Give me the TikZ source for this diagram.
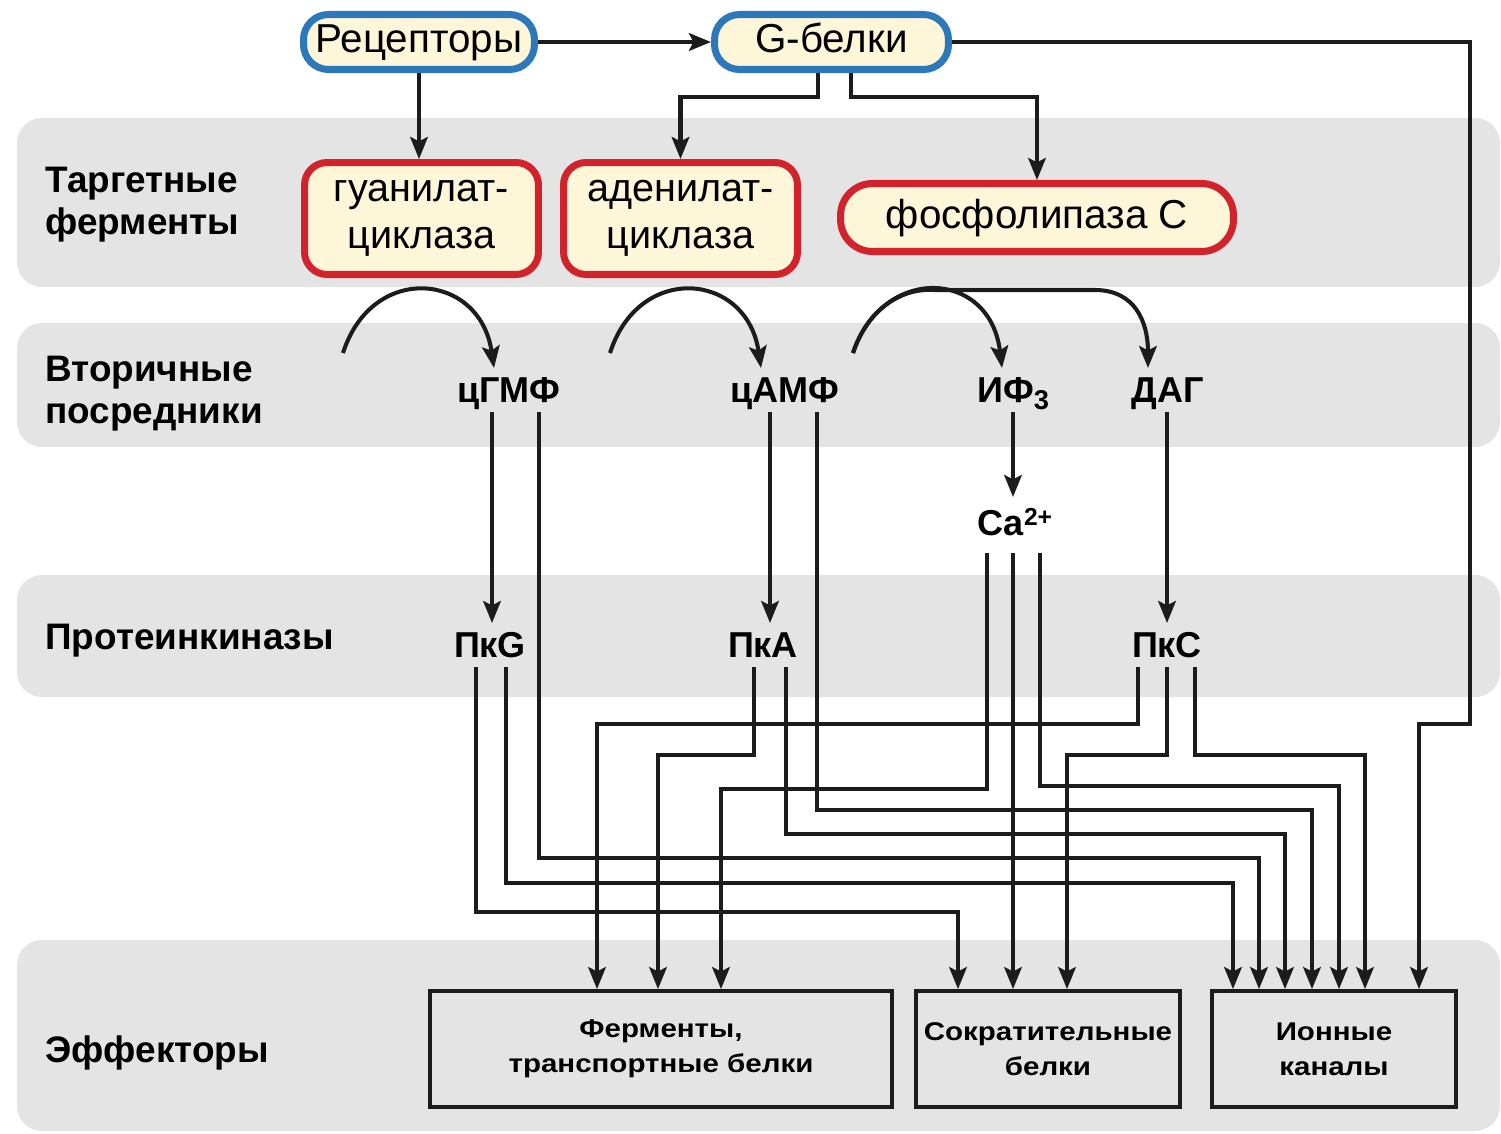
\documentclass[tikz,border=0pt]{standalone}
\usepackage{fontspec}
\setmainfont{Liberation Sans}
\usetikzlibrary{arrows.meta,calc}
\definecolor{cream}{HTML}{FDF6D9}
\definecolor{bblue}{HTML}{2C78BA}
\definecolor{rred}{HTML}{D2232D}
\definecolor{bandgray}{HTML}{E4E4E4}
\definecolor{ink}{HTML}{1C1C1C}
\newcommand{\sx}[1]{\scalebox{1.15}[1]{#1}}
\begin{document}
\begin{tikzpicture}[x=0.02cm,y=-0.02cm,
 band/.style={fill=bandgray,rounded corners=0.5cm},
 topbox/.style={draw=bblue,fill=cream,line width=4pt,rounded corners=0.5cm,minimum height=1.10cm,inner sep=0pt,font=\fontsize{23}{27}\selectfont,text height=16.5pt,text depth=4.5pt},
 enz/.style={draw=rred,fill=cream,line width=4pt,rounded corners=0.45cm,inner sep=0pt,align=center,font=\fontsize{22.5}{26.6}\selectfont},
 eff/.style={draw=ink,fill=bandgray,line width=2.2pt,minimum height=2.32cm,inner sep=0pt,align=center,font=\bfseries\fontsize{14.6}{19.8}\selectfont},
 lab/.style={anchor=base west,inner sep=0pt,font=\bfseries\fontsize{21}{25}\selectfont},
 msg/.style={anchor=base,inner sep=0pt,font=\bfseries\fontsize{20.5}{24}\selectfont},
 con/.style={draw=ink,line width=2.3pt},
 arr/.style={con,-{Stealth[length=12.5pt,width=10pt,inset=2.5pt]}},
]
\useasboundingbox (0,0) rectangle (1501,1133);
% bands
\fill[band] (17,118) rectangle (1500,287);
\fill[band] (17,323) rectangle (1500,447);
\fill[band] (17,575) rectangle (1500,697);
\fill[band] (17,940) rectangle (1500,1131);
% row labels
\node[lab] (l1a) at (45,192) {Таргетные};
\node[lab] (l1b) at (45,234) {ферменты};
\node[lab] (l2a) at (45,381) {Вторичные};
\node[lab] (l2b) at (45,423) {посредники};
\node[lab] (l3) at (45,649) {Протеинкиназы};
\node[lab] (l4) at (45,1062) {Эффекторы};
% top boxes
\node[topbox,minimum width=4.62cm] (rec) at (419,42) {Рецепторы};
\node[topbox,minimum width=4.68cm] (gp) at (831.5,42) {G-белки};
\node[enz,minimum width=4.68cm,minimum height=2.24cm] (gc) at (421.5,218.5) {гуанилат-\\циклаза};
\node[enz,minimum width=4.68cm,minimum height=2.24cm] (ac) at (680.5,218.5) {аденилат-\\циклаза};
\node[enz,minimum width=7.86cm,minimum height=1.36cm,rounded corners=0.64cm,font=\fontsize{23}{27}\selectfont,text height=16.5pt,text depth=4.5pt] (plc) at (1037,217.5) {фосфолипаза C};
% messengers and kinases
\node[msg] (cgmp) at (509,402) {цГМФ};
\node[msg] (camp) at (785,402) {цАМФ};
\node[msg] (ip3) at (1013,402) {ИФ\raisebox{-0.22em}{\fontsize{15.5}{15.5}\selectfont 3}};
\node[msg] (dag) at (1168,402) {ДАГ};
\node[msg] (ca) at (1015,535) {Ca\raisebox{5.5pt}{\fontsize{14}{14}\selectfont 2+}};
\node[msg] (pkg) at (490,657) {ПкG};
\node[msg] (pka) at (763,657) {ПкA};
\node[msg] (pkc) at (1167,657) {ПкC};
% effectors
\node[eff,minimum width=9.24cm] (ferm) at (661,1049) {\sx{Ферменты,}\\\sx{транспортные белки}};
\node[eff,minimum width=5.28cm] (contr) at (1048,1049) {\sx{Сократительные}\\\sx{белки}};
\node[eff,minimum width=4.88cm] (ion) at (1334,1049) {\sx{Ионные}\\\sx{каналы}};
% arc starts
\coordinate (a1) at (343,353);
\coordinate (a2) at (610,353);
\coordinate (a3) at (853,353);
% top connectors
\draw[arr] (rec) -- (gp);
\draw[arr] (rec.south) -- (rec.south |- gc.north);
\draw[arr] ($(gp.south)+(-13.5,0)$) |- ($(ac.north)+(0,-62)$) -- (ac.north);
\draw[arr] ($(gp.south)+(19.5,0)$) |- ($(plc.north)+(0,-83)$) -- (plc.north);
\draw[arr] (gp.east) -| ($(ion.north)+(136,-265)$) -| ($(ion.north)+(85,0)$);
% arcs
\draw[arr] (a1) .. controls (372,262) and (480,272) .. ($(cgmp.base)+(-15,-34)$);
\draw[arr] (a2) .. controls (639,262) and (747,272) .. ($(camp.base)+(-24,-34)$);
\draw[arr] (a3) .. controls (882,265) and (990,268) .. ($(ip3.base)+(-11,-34)$);
\draw[arr] (a3) .. controls (867.5,309) and (901.75,287.75) .. (933.9,290) -- (1095,290) .. controls (1135,290) and (1148,322) .. ($(dag.base)+(-20,-34)$);
% vertical arrows
\draw[arr] ($(cgmp.base)+(-17,10)$) -- ($(pkg.base)+(2,-34)$);
\draw[arr] ($(camp.base)+(-15,10)$) -- ($(pka.base)+(7,-34)$);
\draw[arr] ($(ip3.base)+(0,10)$) -- ($(ca.base)+(-2,-38)$);
\draw[arr] ($(dag.base)+(-1,10)$) -- ($(pkc.base)+(0,-34)$);
% to effectors
\draw[arr] ($(pkc.base)+(-29,10)$) |- ($(ferm.north)+(-64,-265)$) -- ($(ferm.north)+(-64,0)$);
\draw[arr] ($(pka.base)+(-9,10)$) |- ($(ferm.north)+(-3,-234)$) -- ($(ferm.north)+(-3,0)$);
\draw[arr] ($(ca.base)+(-28,18)$) |- ($(ferm.north)+(60,-200)$) -- ($(ferm.north)+(60,0)$);
\draw[arr] ($(pkg.base)+(-14,10)$) |- ($(contr.north)+(-90,-77)$) -- ($(contr.north)+(-90,0)$);
\draw[arr] ($(ca.base)+(-2,18)$) -- ($(contr.north)+(-35,0)$);
\draw[arr] ($(pkc.base)+(0,10)$) |- ($(contr.north)+(19,-234)$) -- ($(contr.north)+(19,0)$);
\draw[arr] ($(pkg.base)+(16,10)$) |- ($(ion.north)+(-101,-106)$) -- ($(ion.north)+(-101,0)$);
\draw[arr] ($(cgmp.base)+(30,10)$) |- ($(ion.north)+(-75,-131)$) -- ($(ion.north)+(-75,0)$);
\draw[arr] ($(pka.base)+(23,10)$) |- ($(ion.north)+(-49,-155)$) -- ($(ion.north)+(-49,0)$);
\draw[arr] ($(camp.base)+(32,10)$) |- ($(ion.north)+(-22,-179)$) -- ($(ion.north)+(-22,0)$);
\draw[arr] ($(ca.base)+(25,18)$) |- ($(ion.north)+(5,-203)$) -- ($(ion.north)+(5,0)$);
\draw[arr] ($(pkc.base)+(28,10)$) |- ($(ion.north)+(31,-234)$) -- ($(ion.north)+(31,0)$);
\end{tikzpicture}
\end{document}
